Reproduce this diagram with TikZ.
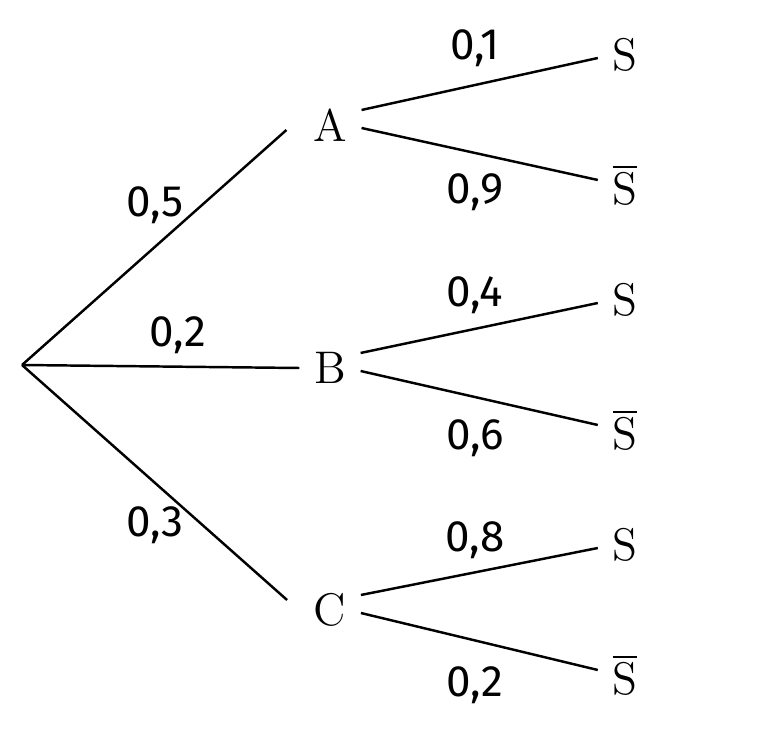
\documentclass[tikz,border=0pt]{standalone}
\usepackage{fontspec}
\setsansfont{Fira Sans}
\begin{document}
\begin{tikzpicture}[x=0.01cm,y=-0.01cm,
    every node/.style={font=\fontsize{13}{15}\selectfont},
    event/.style={inner sep=4pt},
    prob/.style={font=\sffamily\fontsize{12.5}{15}\selectfont},
    branch/.style={line width=0.7pt}]
  \useasboundingbox (0,0) rectangle (770,734);
  %% nodes
  \coordinate (root) at (22,365);
  \node[event] (A) at (330,125) {A};
  \node[event] (B) at (330,368) {B};
  \node[event] (C) at (330,610) {C};
  \node[event] (AS) at (625,55) {S};
  \node[event] (AN) at (625,185) {$\overline{\mathrm{S}}$};
  \node[event] (BS) at (625,300) {S};
  \node[event] (BN) at (625,430) {$\overline{\mathrm{S}}$};
  \node[event] (CS) at (625,545) {S};
  \node[event] (CN) at (625,675) {$\overline{\mathrm{S}}$};
  %% first level
  \draw[branch] (root) -- ([xshift=-0.12cm,yshift=-0.05cm]A.west);
  \draw[branch] (root) -- (B.west);
  \draw[branch] (root) -- ([xshift=-0.12cm,yshift=0.1cm]C.west);
  \node[prob] at (155,205) {0,5};
  \node[prob] at (178,335) {0,2};
  \node[prob] at (155,525) {0,3};
  %% second level
  \foreach \p in {A,B,C}{
    \draw[branch] ([yshift=0.15cm]\p.east) -- ([yshift=-0.03cm]\p S.west);
    \draw[branch] ([yshift=-0.03cm]\p.east) -- ([yshift=0.05cm]\p N.west);
  }
  \node[prob] at (475,48) {0,1};
  \node[prob] at (475,192) {0,9};
  \node[prob] at (475,295) {0,4};
  \node[prob] at (475,438) {0,6};
  \node[prob] at (475,540) {0,8};
  \node[prob] at (475,685) {0,2};
\end{tikzpicture}
\end{document}
